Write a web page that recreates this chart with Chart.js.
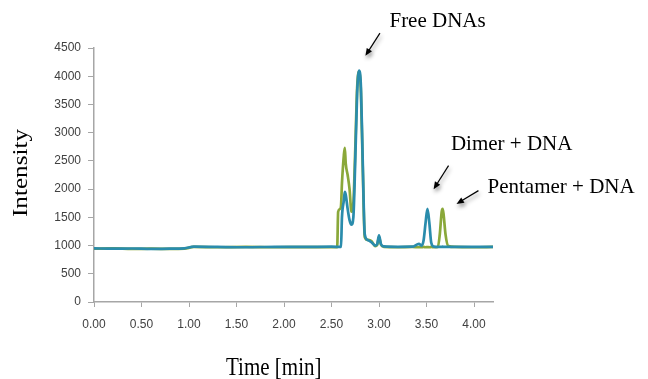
<!DOCTYPE html>
<html>
<head>
<meta charset="utf-8">
<script src="https://cdn.jsdelivr.net/npm/chart.js@4.4.0/dist/chart.umd.min.js"></script>
<style>
  html, body { margin: 0; padding: 0; background: #ffffff; }
  #wrap { width: 648px; height: 379px; }
</style>
</head>
<body>
<div id="wrap"><canvas id="hplcChart" width="648" height="379"></canvas></div>
<script>
// retention time (min), shared by both traces
const timeMin = [
  0, 0.2, 0.4, 0.6, 0.8, 0.95, 1.05, 1.3, 1.6, 1.9, 2.2, 2.5,
  2.56, 2.57, 2.59, 2.6, 2.61, 2.63, 2.64, 2.65, 2.67, 2.69, 2.71, 2.73,
  2.75, 2.77, 2.79, 2.81, 2.83, 2.85, 2.88, 2.92, 2.96, 2.98, 3.0, 3.02,
  3.05, 3.2, 3.35, 3.42, 3.45, 3.47, 3.49, 3.51, 3.53, 3.55, 3.58, 3.62,
  3.64, 3.66, 3.67, 3.68, 3.7, 3.73, 3.8, 4.0, 4.2
];
// pentamer + DNA trace (green)
const pentamerTrace = [
  945, 950, 940, 945, 940, 945, 975, 970, 975, 970, 972, 970,
  970, 1600, 1650, 1700, 2100, 2600, 2730, 2450, 2250, 2000, 1600, 1750,
  2700, 3800, 4080, 3700, 2300, 1150, 1100, 1080, 990, 1010, 1150, 1020,
  975, 970, 975, 970, 972, 975, 970, 972, 970, 975, 970, 975,
  1200, 1600, 1650, 1550, 1200, 990, 975, 970, 975
];
// dimer + DNA trace (blue)
const dimerTrace = [
  950, 945, 948, 940, 945, 950, 980, 975, 970, 978, 975, 980,
  978, 975, 978, 980, 1500, 1800, 1950, 1900, 1650, 1450, 1370, 1500,
  2500, 3700, 4100, 3800, 2400, 1200, 1100, 1060, 1000, 1020, 1180, 1030,
  985, 978, 980, 1030, 1000, 1100, 1400, 1650, 1400, 1050, 980, 975,
  978, 975, 980, 975, 978, 975, 978, 975, 978
];
const yTicks = [0, 500, 1000, 1500, 2000, 2500, 3000, 3500, 4000, 4500];

// peak labels, anchored in data units: text position, arrow tail, arrow head
const noteTexts = ["Free DNAs", "Dimer + DNA", "Pentamer + DNA"];
const noteTextPos = [[3.11, 4880], [3.757, 2695], [4.142, 1938]];
const noteArrowFrom = [[3.01, 4764], [3.732, 2417], [4.047, 1973]];
const noteArrowTo = [[2.857, 4362], [3.575, 1998], [3.816, 1738]];

const serifFont = "21px 'Liberation Serif', 'Times New Roman', serif";

function toPoints(xs, ys) {
  return xs.map((x, i) => ({ x: x, y: ys[i] }));
}

const notesPlugin = {
  id: "notes",
  afterDraw(chart) {
    const ctx = chart.ctx;
    const xs = chart.scales.x;
    const ys = chart.scales.y;
    ctx.save();
    ctx.font = serifFont;
    ctx.fillStyle = "#000000";
    ctx.textBaseline = "alphabetic";

    // axis titles (the source text is a bit stretched)
    ctx.save();
    ctx.translate(xs.left + 132, xs.top + 73);
    ctx.scale(1, 1.2);
    ctx.textAlign = "left";
    ctx.fillText("Time [min]", 0, 0);
    ctx.restore();
    ctx.save();
    ctx.translate(27, (ys.top + ys.bottom) / 2 - 2);
    ctx.rotate(-Math.PI / 2);
    ctx.scale(1.2, 1);
    ctx.textAlign = "center";
    ctx.fillText("Intensity", 0, 0);
    ctx.restore();

    ctx.textAlign = "left";
    for (let i = 0; i < noteTexts.length; i++) {
      ctx.fillText(noteTexts[i], xs.getPixelForValue(noteTextPos[i][0]), ys.getPixelForValue(noteTextPos[i][1]));

      const x1 = xs.getPixelForValue(noteArrowFrom[i][0]);
      const y1 = ys.getPixelForValue(noteArrowFrom[i][1]);
      const x2 = xs.getPixelForValue(noteArrowTo[i][0]);
      const y2 = ys.getPixelForValue(noteArrowTo[i][1]);
      const ang = Math.atan2(y2 - y1, x2 - x1);
      ctx.save();
      ctx.shadowColor = "rgba(0,0,0,0.45)";
      ctx.shadowBlur = 4;
      ctx.shadowOffsetX = 1;
      ctx.shadowOffsetY = 3;
      ctx.strokeStyle = "#000000";
      ctx.lineWidth = 1.2;
      ctx.beginPath();
      ctx.moveTo(x1, y1);
      ctx.lineTo(x2 - 5 * Math.cos(ang), y2 - 5 * Math.sin(ang));
      ctx.stroke();
      ctx.beginPath();
      ctx.moveTo(x2, y2);
      ctx.lineTo(x2 - 8 * Math.cos(ang - 0.4), y2 - 8 * Math.sin(ang - 0.4));
      ctx.lineTo(x2 - 8 * Math.cos(ang + 0.4), y2 - 8 * Math.sin(ang + 0.4));
      ctx.closePath();
      ctx.fill();
      ctx.restore();
    }
    ctx.restore();
  },
};

document.addEventListener("DOMContentLoaded", function () {
  const ctx = document.getElementById("hplcChart").getContext("2d");
  const tickFont = { family: "'Liberation Sans', Arial, sans-serif", size: 12 };

  const hplcChart = new Chart(ctx, {
    type: "line",
    data: {
      datasets: [
        {
          label: "Dimer + DNA",
          data: toPoints(timeMin, dimerTrace),
          borderColor: "rgb(42, 140, 172)",
          borderWidth: 2.7,
          pointRadius: 0,
          cubicInterpolationMode: "monotone",
          order: 1,
        },
        {
          label: "Pentamer + DNA",
          data: toPoints(timeMin, pentamerTrace),
          borderColor: "rgb(138, 168, 58)",
          borderWidth: 2.7,
          pointRadius: 0,
          cubicInterpolationMode: "monotone",
          order: 2,
        },
      ],
    },
    options: {
      responsive: false,
      animation: false,
      layout: { padding: { left: 0, right: 155, top: 48, bottom: 0 } },
      plugins: {
        legend: { display: false },
        tooltip: { enabled: false },
      },
      scales: {
        x: {
          type: "linear",
          min: 0,
          max: 4.2,
          afterFit: (scale) => { scale.height = 77; },
          border: { color: "#a6a6a6", width: 1.5 },
          grid: { drawOnChartArea: false, color: "#a6a6a6", tickLength: 5 },
          ticks: {
            stepSize: 0.5,
            includeBounds: false,
            maxRotation: 0,
            padding: 10,
            color: "#404040",
            font: tickFont,
            callback: (v) => v.toFixed(2),
          },
        },
        y: {
          min: 0,
          max: 4500,
          afterFit: (scale) => { scale.width = 94; },
          afterBuildTicks: (scale) => { scale.ticks = yTicks.map((v) => ({ value: v })); },
          border: { color: "#a6a6a6", width: 1.5 },
          grid: { drawOnChartArea: false, color: "#a6a6a6", tickLength: 6 },
          ticks: {
            padding: 7,
            color: "#404040",
            font: tickFont,
            callback: (v) => String(v),
          },
        },
      },
    },
    plugins: [notesPlugin],
  });
});
</script>
</body>
</html>
